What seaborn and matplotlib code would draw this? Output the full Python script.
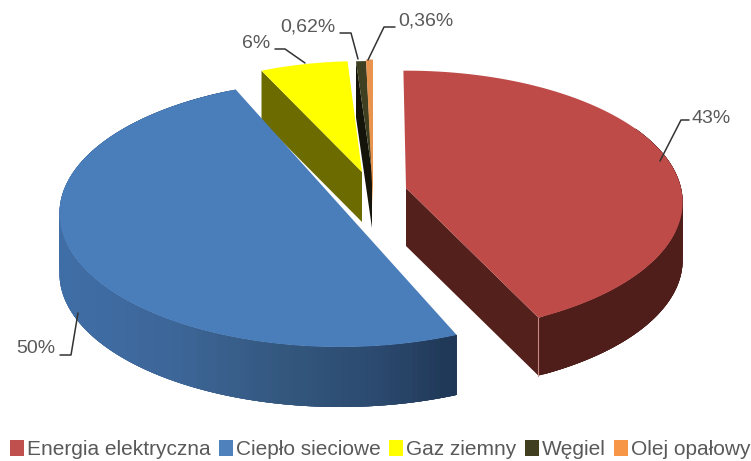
import numpy as np
import seaborn as sns
import matplotlib.pyplot as plt
from matplotlib.patches import Patch

categories = ["Energia elektryczna", "Ciepło sieciowe", "Gaz ziemny", "Węgiel", "Olej opałowy"]
shares = [43, 50, 6, 0.62, 0.36]
labels = ["43%", "50%", "6%", "0,62%", "0,36%"]
colors = ["#BE4B48", "#4A7EBB", "#FFFF00", "#3F3F22", "#E8944F"]
legend_colors = ["#C0504D", "#4F81BD", "#FFFF00", "#403F20", "#F79646"]

# geometria kawalkow: wierzcholek, polosie, perspektywa, obrot, grubosc (piksele obrazka)
slices = [
    dict(apex=(406, 188), a=275, b=130, k=0.108, rot=-0.6, depth=58),
    dict(apex=(340, 205.5), a=280, b=133, k=0.06, rot=2.0, depth=60),
    dict(apex=(362, 172), a=258, b=122, k=0.10, rot=0, depth=50),
    dict(apex=(372, 172), a=286, b=122, k=0.10, rot=0, depth=56),
    dict(apex=(373, 205), a=340, b=160, k=0.10, rot=0, depth=20),
]

sns.set_theme(style="white")
plt.rcParams["font.family"] = ["Liberation Sans", "DejaVu Sans"]

fig = plt.figure(figsize=(7.51, 4.61), dpi=100)
ax = fig.add_axes([0, 0, 1, 1])
ax.set_xlim(0, 751)
ax.set_ylim(461, 0)
ax.axis("off")

edges = np.cumsum([0] + shares) / sum(shares) * 360


def project(theta, s):
    t = np.radians(theta + s["rot"])
    w = 1 + s["k"] * np.cos(t)
    x = s["apex"][0] + s["a"] * np.sin(t) / w
    y = s["apex"][1] - s["b"] * np.cos(t) / w
    return x, y


def top_face(i, color, z):
    s = slices[i]
    x, y = project(np.linspace(edges[i], edges[i + 1], 200), s)
    ax.fill(np.r_[s["apex"][0], x], np.r_[s["apex"][1], y], color=color, lw=0, zorder=z)


def radial_wall(i, theta, color, z):
    s = slices[i]
    x, y = project(theta, s)
    ax0, ay0 = s["apex"]
    d = s["depth"]
    ax.fill([ax0, x, x, ax0], [ay0, y, y + d, ay0 + d], color=color, lw=0, zorder=z)


def outer_wall(i, pal, x_min, x_max, z, n=160, skip=0.0):
    # paski zachodza na siebie, zeby nie bylo szwow
    s = slices[i]
    th = np.linspace(edges[i] + skip * (edges[i + 1] - edges[i]), edges[i + 1], n)
    x, y = project(th, s)
    d = s["depth"]
    for j in range(n):
        f = np.clip((x[j] - x_min) / (x_max - x_min), 0, 0.999)
        c = pal[int(f * len(pal))]
        k = np.arange(max(j - 4, 0), j + 1)
        ax.fill(np.r_[x[k], x[k][::-1]], np.r_[y[k], y[k][::-1] + d], color=c, lw=0, zorder=z)


# gaz, wegiel i olej z tylu
radial_wall(2, edges[2], "#6B6B00", 1)
top_face(2, colors[2], 2)
radial_wall(3, edges[3], "#15140A", 3)
top_face(3, colors[3], 4)
top_face(4, colors[4], 4)

# cieplo sieciowe
blue_pal = sns.blend_palette(["#3F6DA5", "#3D6698", "#34587F", "#2C4A70", "#1C3350"], 60)
outer_wall(1, blue_pal, 60, 456, 5)
top_face(1, colors[1], 6)

# energia elektryczna
radial_wall(0, edges[1], "#53201C", 7)
outer_wall(0, ["#4F1D1A"], 500, 700, 7, skip=0.4)
top_face(0, colors[0], 8)
cx, cy = project(edges[1], slices[0])
ax.plot([cx, cx], [cy, cy + slices[0]["depth"]], color="#C98A84", lw=0.8, zorder=9)

# etykiety z liniami
label_pos = [(692, 118), (16, 348), (242, 44), (280, 27), (398, 21)]
leaders = [
    [(660, 161), (681, 120), (689, 120)],
    [(78, 313), (71, 355), (60, 355)],
    [(305, 63), (285, 49), (275, 49)],
    [(358, 59), (351, 33), (340, 33)],
    [(368, 60), (384, 27), (395, 27)],
]
for lab, pos, line in zip(labels, label_pos, leaders):
    ax.text(pos[0], pos[1], lab, fontsize=14, color="#595959", va="center", ha="left", zorder=10)
    ax.plot(*zip(*line), color="#333333", lw=1.1, zorder=10)

handles = [Patch(facecolor=c, edgecolor="none") for c in legend_colors]
ax.legend(handles, categories, ncol=5, loc="center", bbox_to_anchor=(380 / 751, 1 - 449.5 / 461),
          frameon=False, fontsize=15, labelcolor="#595959", handlelength=0.7, handleheight=0.8,
          handletextpad=0.12, columnspacing=0.4, borderpad=0, borderaxespad=0)

fig.savefig("out.png", dpi=100)
